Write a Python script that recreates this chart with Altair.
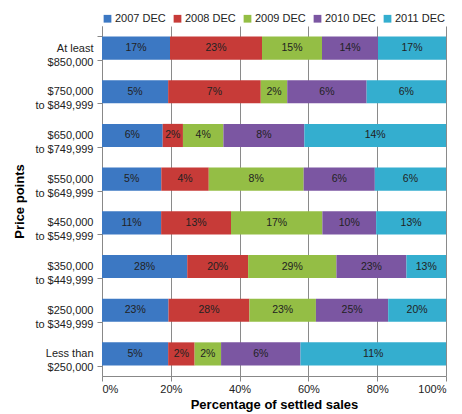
import altair as alt
import pandas as pd

categories = [
    "At least|$850,000",
    "$750,000|to $849,999",
    "$650,000|to $749,999",
    "$550,000|to $649,999",
    "$450,000|to $549,999",
    "$350,000|to $449,999",
    "$250,000|to $349,999",
    "Less than|$250,000",
]
series = ["2007 DEC", "2008 DEC", "2009 DEC", "2010 DEC", "2011 DEC"]
colors = ["#3C78C3", "#C73B38", "#94BE45", "#7B56A2", "#34AECF"]

v2007 = [17, 5, 6, 5, 11, 28, 23, 5]
v2008 = [23, 7, 2, 4, 13, 20, 28, 2]
v2009 = [15, 2, 4, 8, 17, 29, 23, 2]
v2010 = [14, 6, 8, 6, 10, 23, 25, 6]
v2011 = [17, 6, 14, 6, 13, 13, 20, 11]

rows = []
for si, (s, vals) in enumerate(zip(series, [v2007, v2008, v2009, v2010, v2011])):
    for c, v in zip(categories, vals):
        rows.append({"cat": c, "series": s, "order": si, "value": v, "label": f"{v}%"})
df = pd.DataFrame(rows)

base = alt.Chart(df).transform_stack(
    stack="value", groupby=["cat"], sort=[alt.SortField("order")],
    as_=["x0", "x1"], offset="normalize"
).transform_calculate(mid="(datum.x0 + datum.x1) / 2")

yenc = alt.Y("cat:N", sort=categories,
             scale=alt.Scale(paddingInner=0.47, paddingOuter=0.24),
             axis=alt.Axis(title="Price points",
                           labelExpr="datum.value ? split(datum.value, '|') : ''",
                           tickBand="extent", grid=False, labelFontSize=11,
                           labelColor="#222", labelPadding=4, tickColor="#888",
                           domainColor="#888", titleFontSize=13, titleFontWeight="bold",
                           titleColor="#000", labelLineHeight=14, titlePadding=8))

bars = base.mark_bar().encode(
    x=alt.X("x0:Q", scale=alt.Scale(domain=[0, 1]),
            axis=alt.Axis(format="%", values=[0, 0.2, 0.4, 0.6, 0.8, 1.0], grid=True,
                          gridColor="#8a8a8a", title="Percentage of settled sales",
                          labelFontSize=11, labelColor="#222", tickColor="#888",
                          domainColor="#888", titleFontSize=13, titleFontWeight="bold",
                          titleColor="#000", titlePadding=4)),
    x2="x1:Q",
    y=yenc,
    color=alt.Color("series:N", sort=series,
                    scale=alt.Scale(domain=series, range=colors),
                    legend=alt.Legend(orient="top", direction="horizontal", title=None,
                                      symbolType="square", symbolSize=60, labelFontSize=11,
                                      labelColor="#222", columnPadding=6, symbolStrokeWidth=0,
                                      labelOffset=2, offset=2)),
)

texts = base.mark_text(fontSize=10.5, color="#222").encode(
    x="mid:Q", y=alt.Y("cat:N", sort=categories), text="label:N"
)

chart = (bars + texts).properties(width=344, height=350).configure(
    font="Liberation Sans"
).configure_view(stroke=None)

chart.save("out.html", embed_options={"renderer": "svg", "actions": False})
